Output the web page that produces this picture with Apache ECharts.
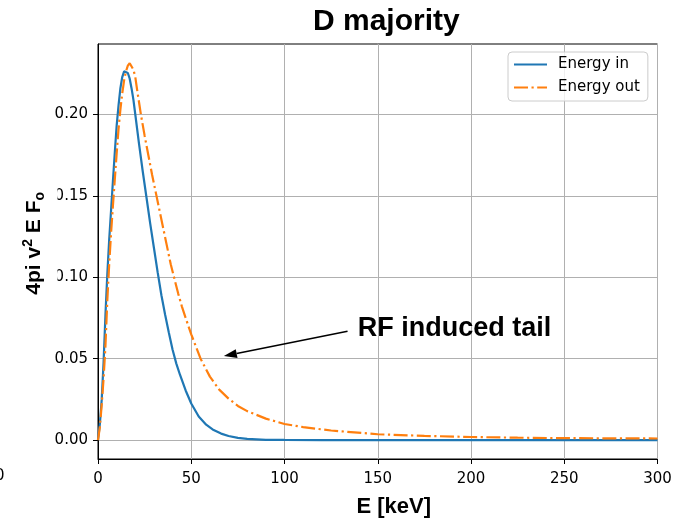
<!DOCTYPE html>
<html><head><meta charset="utf-8">
<script src="https://cdn.jsdelivr.net/npm/echarts@6/dist/echarts.min.js"></script>
<style>html,body{margin:0;padding:0;background:#fff}#c{width:693px;height:523px}</style>
</head><body><div id="c"></div>
<script>
const titleText = 'D majority';
const seriesNames = ['Energy in', 'Energy out'];
const xTicks = [0, 50, 100, 150, 200, 250, 300];
const yTicks = [0, 0.05, 0.10, 0.15, 0.20];

const energyInE = [0,1,2,3,4,5,6,7,8,9,10,11,12,13,14,15,16,17,18,19,20,22,24,26,28,30,32,34,36,38,40,42,44,47,50,54,58,62,66,70,75,80,90,100,120,150,200,250,300];
const energyInVal = [0,0.010,0.025,0.048,0.077,0.102,0.123,0.141,0.159,0.1765,0.193,0.2055,0.216,0.223,0.2265,0.2272,0.2255,0.222,0.216,0.209,0.200,0.182,0.165,0.149,0.133,0.118,0.103,0.089,0.077,0.066,0.0555,0.047,0.040,0.0305,0.0225,0.0145,0.0095,0.0062,0.0040,0.0025,0.0014,0.0008,0.0002,0.0001,0,0,0,0,0];

const energyOutE = [0,1,2,3,4,5,6,7,8,9,10,11,12,13,14,15,16,17,18,19,20,21,22,23,25,27,29,31,33,35,37,39,41,43,45,47,50,55,60,65,70,75,80,90,100,110,125,150,175,200,225,250,275,300];
const energyOutVal = [0,0.008,0.022,0.038,0.058,0.086,0.108,0.127,0.144,0.160,0.176,0.191,0.203,0.213,0.221,0.2265,0.2300,0.2315,0.2305,0.2275,0.223,0.215,0.2075,0.200,0.187,0.175,0.163,0.152,0.141,0.130,0.119,0.108,0.099,0.090,0.082,0.075,0.065,0.050,0.039,0.031,0.0255,0.021,0.0178,0.0132,0.0099,0.0080,0.0059,0.0036,0.0026,0.0019,0.0015,0.0012,0.0011,0.0010];

const annotationText = 'RF induced tail';
const arrowTail = [133.8, 0.0669];
const arrowTip = [67.5, 0.0516];
const textAnchor = [139.3, 0.0683];

const zip = (a, b) => a.map((v, i) => [v, b[i]]);
const chart = echarts.init(document.getElementById('c'), null, {renderer: 'canvas'});
const tickFont = {fontFamily: 'DejaVu Sans', fontSize: 15, color: '#000'};
const boldFont = 'Liberation Sans, Arial, Helvetica, sans-serif';

const option = {
  animation: false,
  backgroundColor: '#fff',
  title: {
    text: titleText, left: 308, top: 2,
    textStyle: {fontFamily: boldFont, fontWeight: 'bold', fontSize: 30, color: '#000'}
  },
  legend: {
    orient: 'vertical', left: 508, top: 52,
    itemWidth: 33, itemHeight: 14, itemGap: 8,
    padding: [5, 8, 6, 5],
    backgroundColor: 'rgba(255,255,255,0.8)', borderColor: '#cccccc', borderWidth: 1, borderRadius: 4,
    itemStyle: {opacity: 0},
    textStyle: {fontFamily: 'DejaVu Sans', fontSize: 15, color: '#000', padding: [0, 0, 0, 6]},
    data: seriesNames
  },
  grid: {left: 98, right: 35.5, top: 44, bottom: 61, show: true, borderColor: '#000', borderWidth: 1, backgroundColor: 'transparent'},
  xAxis: {
    type: 'value', min: 0, max: 300, interval: 50,
    name: 'E [keV]', nameLocation: 'middle', nameGap: 37,
    nameTextStyle: {fontFamily: boldFont, fontWeight: 'bold', fontSize: 22, color: '#000', padding: [0, 0, 0, 32]},
    axisLine: {show: true, onZero: false, lineStyle: {color: '#000', width: 1}},
    axisTick: {show: true, length: 5, inside: false, lineStyle: {color: '#000', width: 1}},
    axisLabel: Object.assign({margin: 13, formatter: v => String(v)}, tickFont),
    splitLine: {show: true, lineStyle: {color: '#b0b0b0', width: 1}}
  },
  yAxis: {
    type: 'value', min: -0.0116, max: 0.2433, interval: 0.05,
    axisLine: {show: true, onZero: false, lineStyle: {color: '#000', width: 1}},
    axisTick: {show: true, length: 5, inside: false, customValues: yTicks, lineStyle: {color: '#000', width: 1}},
    axisLabel: Object.assign({margin: 10, customValues: yTicks, formatter: v => v.toFixed(2)}, tickFont),
    splitLine: {show: true, lineStyle: {color: '#b0b0b0', width: 1}}
  },
  series: [
    {
      name: seriesNames[0], type: 'line', data: zip(energyInE, energyInVal),
      symbol: 'none', showSymbol: false, smooth: false,
      lineStyle: {color: '#1f77b4', width: 2.2}, itemStyle: {color: '#1f77b4'}
    },
    {
      name: seriesNames[1], type: 'line', data: zip(energyOutE, energyOutVal),
      symbol: 'none', showSymbol: false, smooth: false,
      lineStyle: {color: '#ff7f0e', width: 2.2, type: [14, 3.5, 2.2, 3.5]}, itemStyle: {color: '#ff7f0e'}
    }
  ]
};
chart.setOption(option);

const tip = chart.convertToPixel({gridIndex: 0}, arrowTip);
const tail = chart.convertToPixel({gridIndex: 0}, arrowTail);
const tAnchor = chart.convertToPixel({gridIndex: 0}, textAnchor);
const dx = tip[0] - tail[0], dy = tip[1] - tail[1];
const len = Math.sqrt(dx * dx + dy * dy);
const ux = dx / len, uy = dy / len;
const headL = 13, headW = 4.5;
const base = [tip[0] - ux * headL, tip[1] - uy * headL];
const px = -uy, py = ux;

chart.setOption({
  graphic: [
    {type: 'line', z: 50, shape: {x1: tail[0], y1: tail[1], x2: base[0], y2: base[1]}, style: {stroke: '#000', lineWidth: 1.5}},
    {type: 'polygon', z: 50, shape: {points: [tip, [base[0] + px * headW, base[1] + py * headW], [base[0] - px * headW, base[1] - py * headW]]}, style: {fill: '#000'}},
    {type: 'text', z: 50, x: tAnchor[0], y: tAnchor[1], style: {text: annotationText, fontFamily: boldFont, fontWeight: 'bold', fontSize: 27, fill: '#000', align: 'left', verticalAlign: 'middle'}},
    {type: 'rect', z: 100, shape: {x: 22, y: 183, width: 35.5, height: 120}, style: {fill: '#fff'}},
    {type: 'text', z: 101, x: 34.3, y: 243.3, rotation: Math.PI / 2,
      style: {
        text: '{a|4pi v}{s|2}{a| E F}{b|o}',
        align: 'center', verticalAlign: 'middle',
        rich: {
          a: {fontFamily: boldFont, fontWeight: 'bold', fontSize: 21, fill: '#000', lineHeight: 26, verticalAlign: 'middle'},
          s: {fontFamily: boldFont, fontWeight: 'bold', fontSize: 14, fill: '#000', lineHeight: 26, verticalAlign: 'top'},
          b: {fontFamily: boldFont, fontWeight: 'bold', fontSize: 14, fill: '#000', lineHeight: 26, verticalAlign: 'bottom'}
        }
      }
    },
    {type: 'text', z: 101, x: 4.5, y: 476, style: {text: '0', fontFamily: 'DejaVu Sans', fontSize: 15, fill: '#000', align: 'right', verticalAlign: 'middle'}}
  ]
});
</script></body></html>
